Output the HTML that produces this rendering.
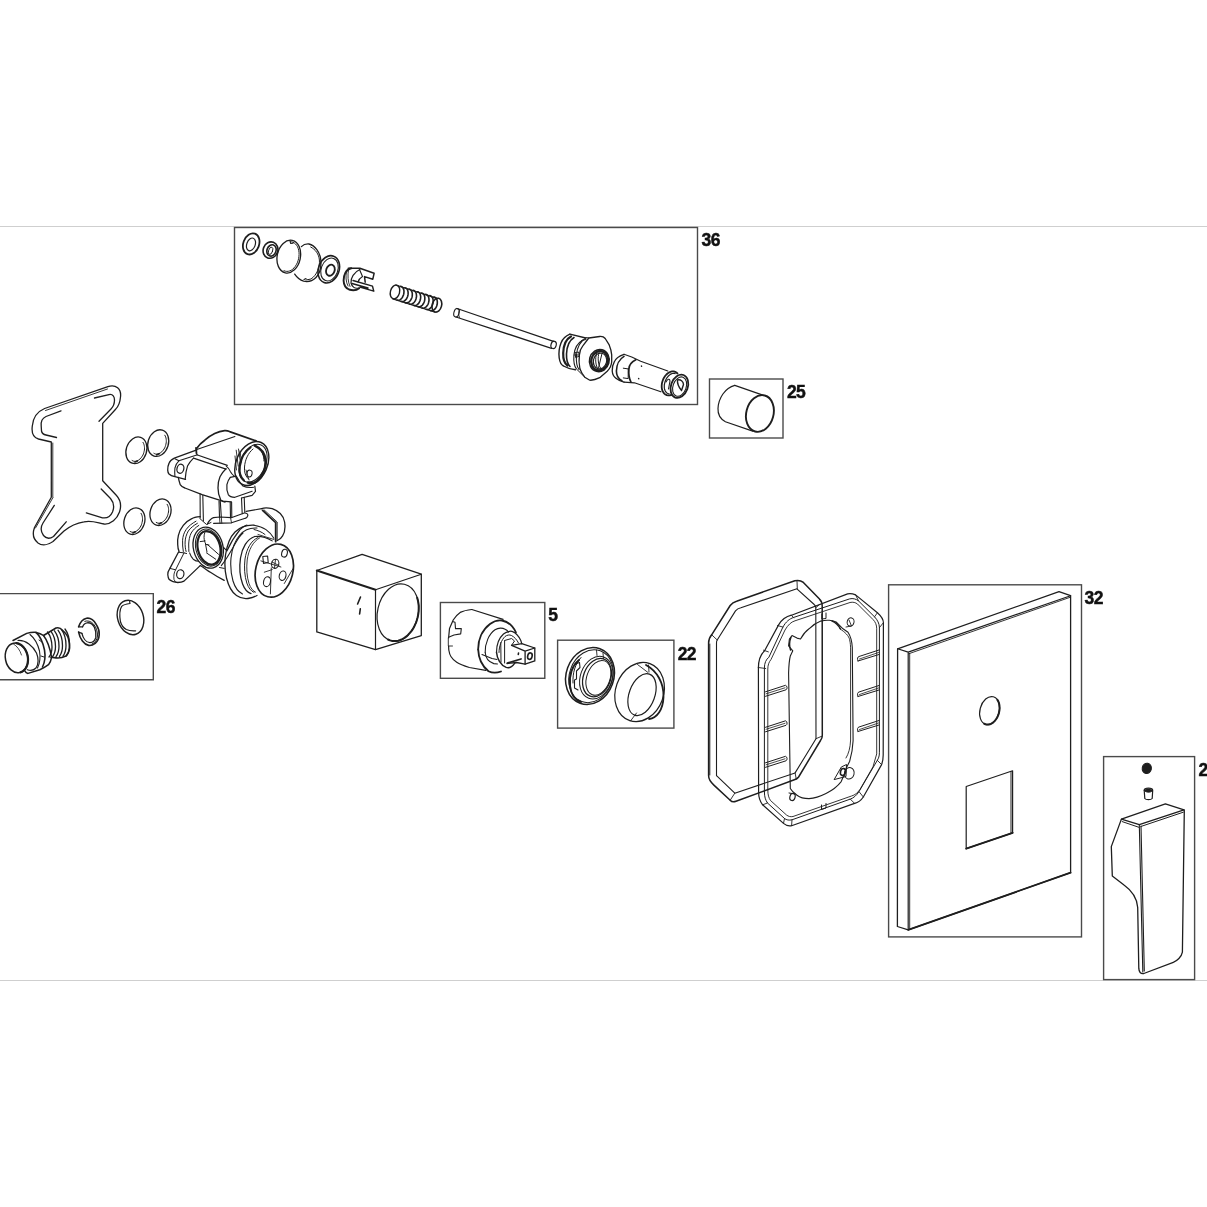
<!DOCTYPE html>
<html><head><meta charset="utf-8">
<style>
html,body{margin:0;padding:0;background:#fff;}
body{width:1207px;height:1207px;overflow:hidden;position:relative;}
svg{position:absolute;left:0;top:0;}
.lbl{font-family:"Liberation Sans",sans-serif;font-weight:bold;font-size:17.5px;fill:#111;stroke:#111;stroke-width:0.45px;letter-spacing:-0.6px;}
</style></head><body>
<svg width="1207" height="1207" viewBox="0 0 1207 1207">
<g id="rules" stroke="#cfcfcf" stroke-width="1.2" fill="none">
<line x1="0" y1="226.5" x2="1207" y2="226.5"/>
<line x1="0" y1="980.5" x2="1207" y2="980.5"/>
</g>
<g id="boxes" stroke="#4a4a4a" stroke-width="1.4" fill="#fff">
<rect x="234.5" y="227.5" width="463" height="177"/>
<rect x="709.5" y="379" width="73.5" height="59"/>
<path d="M0 593.6 H153.3 V679.7 H0"/>
<rect x="440.4" y="602.5" width="104.4" height="75.8"/>
<rect x="557.6" y="640.2" width="116.3" height="87.9"/>
<rect x="888.6" y="584.8" width="192.9" height="352.1"/>
<rect x="1103.6" y="756.6" width="91" height="223"/>
</g>
<defs><filter id="gs" x="-0.05" y="-0.2" width="1.1" height="1.4"><feColorMatrix type="identity"/></filter></defs>
<g id="labels" class="lbl" filter="url(#gs)">
<text x="701.6" y="246.2">36</text>
<text x="786.9" y="397.9">25</text>
<text x="156.6" y="612.7">26</text>
<text x="548.3" y="621.3">5</text>
<text x="677.7" y="659.9">22</text>
<text x="1084.6" y="603.9">32</text>
<text x="1198.5" y="775.6">2</text>
</g>
<g id="parts" stroke="#1e1e1e" stroke-width="1.3" fill="none" stroke-linejoin="round" stroke-linecap="round">
<path d="M44.6 408.5 L107.9 386.6 C116 384 121.5 389 120.5 397 C120 403 118 407 115.4 409.5 L102.7 423.4 L102.7 480.8 L116.5 495.5 C121 500.5 121.5 506 119.5 512 C117 519 111 524.5 104.2 524 C98 523 92 520 84 521.8 C76 523 70 526 64 531 L53 541.5 C48 545 42 546 38 543 C33 539 32.5 533 34.5 527.5 L51.3 497.2 L51.3 442 L38.5 439 C33 437.5 31.5 432 32.3 426 C33 418 37.5 411.5 44.6 408.5 Z" />
<path d="M45.5 410.5 L107.5 389" stroke-width="0.9" />
<path d="M52.8 443 L52.8 497" stroke-width="0.9" />
<path d="M53 497.5 L35.5 528" stroke-width="0.9" />
<path d="M61 410.8 L46 416.5 C41.5 418.5 40.8 422 41.2 426 L41.5 431 C42 433.5 43.5 434.5 46 435 L56.5 437.5" />
<path d="M94.5 398 L109 394.6 C113 393.8 114.5 397 114.5 400 C114.5 404 113.5 406.5 111 409 L99 421.2" />
<path d="M101.2 489 L110.5 498.5 C113.5 502 114.5 507 112.5 512 C110.5 516.5 107 518.5 102.5 517.8 L86.3 512.9" />
<path d="M54.3 505.4 L43 523 C40.5 527 41 532 43.5 535.5 C46 538.5 50 538.8 53.5 536.5 L66.2 521.8" />
<ellipse cx="136.4" cy="450.3" rx="10.2" ry="13.6" transform="rotate(18 136.4 450.3)" />
<path d="M143.0 442.4 L143.5 443.3 L143.9 444.3 L144.2 445.3 L144.4 446.5 L144.5 447.7 L144.5 448.9 L144.4 450.1 L144.1 451.4 L143.8 452.7 L143.4 453.9 L142.9 455.1 L142.2 456.2 L141.6 457.2 L140.8 458.1 L140.0 459.0 L139.1 459.7 L138.3 460.3 L137.3 460.8 L136.4 461.1 L135.5 461.3 L134.6 461.3 L133.7 461.2 L132.9 460.9 L132.1 460.5" stroke-width="1.0" />
<line x1="134.9" y1="462.0" x2="137.4" y2="460.90000000000003" stroke-width="1.6"/>
<ellipse cx="158.2" cy="443.1" rx="10.2" ry="13.6" transform="rotate(18 158.2 443.1)" />
<path d="M164.8 435.2 L165.3 436.1 L165.7 437.1 L166.0 438.1 L166.2 439.3 L166.3 440.5 L166.3 441.7 L166.2 442.9 L165.9 444.2 L165.6 445.5 L165.2 446.7 L164.7 447.9 L164.0 449.0 L163.4 450.0 L162.6 450.9 L161.8 451.8 L160.9 452.5 L160.1 453.1 L159.1 453.6 L158.2 453.9 L157.3 454.1 L156.4 454.1 L155.5 454.0 L154.7 453.7 L153.9 453.3" stroke-width="1.0" />
<line x1="156.7" y1="454.8" x2="159.2" y2="453.70000000000005" stroke-width="1.6"/>
<ellipse cx="134.4" cy="521.2" rx="10.2" ry="13.6" transform="rotate(18 134.4 521.2)" />
<path d="M141.0 513.3 L141.5 514.2 L141.9 515.2 L142.2 516.2 L142.4 517.4 L142.5 518.6 L142.5 519.8 L142.4 521.0 L142.1 522.3 L141.8 523.6 L141.4 524.8 L140.9 526.0 L140.2 527.1 L139.6 528.1 L138.8 529.0 L138.0 529.9 L137.1 530.6 L136.3 531.2 L135.3 531.7 L134.4 532.0 L133.5 532.2 L132.6 532.2 L131.7 532.1 L130.9 531.8 L130.1 531.4" stroke-width="1.0" />
<line x1="132.9" y1="532.9000000000001" x2="135.4" y2="531.8000000000001" stroke-width="1.6"/>
<ellipse cx="160.5" cy="512.2" rx="10.2" ry="13.6" transform="rotate(18 160.5 512.2)" />
<path d="M167.1 504.3 L167.6 505.2 L168.0 506.2 L168.3 507.2 L168.5 508.4 L168.6 509.6 L168.6 510.8 L168.5 512.0 L168.2 513.3 L167.9 514.6 L167.5 515.8 L167.0 517.0 L166.3 518.1 L165.7 519.1 L164.9 520.0 L164.1 520.9 L163.2 521.6 L162.4 522.2 L161.4 522.7 L160.5 523.0 L159.6 523.2 L158.7 523.2 L157.8 523.1 L157.0 522.8 L156.2 522.4" stroke-width="1.0" />
<line x1="159.0" y1="523.9000000000001" x2="161.5" y2="522.8000000000001" stroke-width="1.6"/>
<path d="M196.8 448.2 C199 445 201.5 442.5 204.8 440.2 C208 437.5 211 435.3 214.7 433.6 C218 432 221 431 224.6 430.6 C226.5 430.4 228 430.8 229.6 431.6 L256.1 440.9" stroke-width="1.7" />
<path d="M196.8 449.5 L234.9 436.6" stroke-width="1.1" />
<path d="M196.8 449.9 L174.3 458.1 C171.5 459.5 169.8 461 169 463.4 C168 465.5 167.6 468 167.7 470.1 C167.8 472 168.2 473 169 474 C170.5 475.5 172.5 476.2 174.9 476.7 L185.5 479.3" stroke-width="1.3" />
<path d="M174.9 458.8 L178.9 460.8 L197.5 454.8" stroke-width="1.1" />
<path d="M178.9 460.8 C176.5 463 175.3 465.5 174.9 468.1 C174.6 471 174.7 473.5 174.9 476" stroke-width="1.1" />
<path d="M193.5 458.1 C190.5 461 188.8 463.5 187.5 466.1 C186.2 470 185.5 474 185.2 479.3" stroke-width="1.2" />
<ellipse cx="180.4" cy="468.8" rx="3.4" ry="4.6" transform="rotate(15 180.4 468.8)" stroke-width="1.3" />
<path d="M196 448 L196.5 453.5" stroke-width="1.8" />
<path d="M196.8 454.8 L227.3 465.4 M193.5 458.1 L226 469.1" stroke-width="1.2" />
<path d="M178.3 477.4 C178.8 480 179.5 482.5 180.2 484.6 C181.5 486.5 183 487.5 184.9 488 L202.1 494.6 L222.7 501.2 L230.9 501.9" stroke-width="1.3" />
<path d="M226 468.7 C223.5 471 221.5 474 220 476.7 C218.5 480 218 484 218 488 C218 492 219 496.5 220.7 499.9 C222 501 223.5 501.7 225 502" stroke-width="1.3" />
<path d="M230.3 477.4 C228.5 479.5 227.5 482 226.9 484.7 C226.5 488 227 491.5 228.3 494.6 C229.5 496.5 232 497.2 234.9 497.3 L252.1 491.3" stroke-width="1.2" />
<path d="M230.3 477.4 L236.2 476.1 C239 480 240.5 484 242.9 486 C246 487.5 250 487.7 253.5 487.3" stroke-width="1.1" />
<path d="M226.3 466.1 C228 467.5 229.5 469.5 230.3 471.4 C231.5 473.5 232.8 475 234.2 476.1" stroke-width="1.1" />
<path d="M254.8 486 L255.5 491.3 L252.1 495.3 L241.5 498" stroke-width="1.2" />
<ellipse cx="251.8" cy="463.5" rx="15.6" ry="23.0" transform="rotate(24 251.8 463.5)" stroke-width="1.4" />
<ellipse cx="253.0" cy="463.2" rx="12.6" ry="20.0" transform="rotate(24 253.0 463.2)" stroke-width="1.0" />
<path d="M254.8 445.6 C260 448 264.5 453 265.4 459.5 C266.5 467 263 476 257 481 C254.5 483 251 483.5 248 482.5" stroke-width="2.6" />
<path d="M258 447.5 C262 450.5 264 455.5 264 461" stroke-width="1.0" />
<path d="M250.5 447.3 C245 451 241 458 239.8 466 C239 472 240.5 477.5 244 480.5" stroke-width="2.2" />
<path d="M253 449 C248 453 245 460 244.5 467 C244 472 245.5 476.5 248.5 479" stroke-width="1.0" />
<path d="M236.2 450.2 L238.2 466.1 M238.5 449 L240.5 463 M235 456 L236.5 470 M240 451 L241.5 462" stroke-width="0.9" />
<ellipse cx="249.5" cy="473.5" rx="2.6" ry="3.4" transform="rotate(10 249.5 473.5)" stroke-width="1.0" />
<path d="M246 470 L249 480" stroke-width="0.9" />
<path d="M200.1 493.9 L200.2 518 M202.8 495.2 L203.4 521 M219 501 L219.5 517 M220.3 501.2 L221.3 517 M230.2 501.9 L230.5 517.5 M231.6 501.9 L231.8 517.5 M241.5 498 L242.2 513.6 M244.2 497.3 L244.8 512.4" stroke-width="1.1" />
<path d="M207.3 524 C209 520.5 211 518.5 213.5 517.6 L219.9 517 L231.2 517.7 L244.3 513 C246.5 512.8 248.2 514 247.8 515.7 C247.5 517 246.5 518 245.2 518.3 L231.5 522.8 L213.6 523.3" stroke-width="1.2" />
<path d="M219.5 517 L220 523.3 M221.3 517.2 L221.8 523.3 M230.5 517.5 L231.5 522.8" stroke-width="0.9" />
<path d="M246.1 511.3 L261.7 508.7" stroke-width="1.2" />
<path d="M261.7 508.7 C264 507.8 268 507.8 272.2 508.7 C279 511 283.5 516 284.6 522 C285.5 528 284.5 533 282.6 535.8 C281 538.5 279 540 277.4 540.5" stroke-width="1.3" />
<path d="M262.6 510.4 L275.7 522.6 L275.7 541.7" stroke-width="1.8" />
<path d="M264 509.8 L277.2 522 L277.2 540.5" stroke-width="0.9" />
<path d="M200.2 516.6 C196 517 193.5 517.5 191.8 518.7 C188 520.5 185.5 522.5 183.3 525.4 C180.5 529 179 532 178.4 535.3 C177.6 538.5 177.5 541.5 177.7 544.4 C177.8 547.5 178.3 549.8 179.1 551.5" stroke-width="1.3" />
<path d="M196 521.2 C192 523.5 188.5 526 186.1 529.6 C183.8 533 182.8 536.5 182.6 540.2 C182.4 544 182.7 548 183.3 551.5" stroke-width="1.0" />
<path d="M197.4 523.3 C193.5 525.5 190.5 528 188.3 531 C186.3 534.5 185.3 538 185.1 542 C185 545.5 185.3 549 186.1 551.5" stroke-width="1.0" />
<path d="M198.8 525.4 C195.5 527.5 193 530 191.2 533 C189.5 536.5 188.9 540 188.7 544 C188.7 547 188.8 549.5 188.9 551.5" stroke-width="1.0" />
<path d="M189.6 552.9 C190.5 555.5 191.8 557.8 193.2 559.2 C195 560.6 197 561.3 198.8 561.3" stroke-width="1.1" />
<path d="M199.8 518.5 L206.5 524.5 L211 522.5" stroke-width="1.0" />
<path d="M178.4 552.2 L169.9 568.4 C168.2 571 167.6 573 167.8 574.7 C168 577 168.4 578.5 169.2 579.6 C171.5 581.5 174.5 582.5 177.7 582.5 C180 582.5 182.5 582 184 581.1 L200.2 565.6" stroke-width="1.3" />
<path d="M184 552.9 L175.6 569.8 L169.9 568.4 M178.4 552.2 L184 552.9 L186.6 553.5" stroke-width="1.0" />
<path d="M175.6 569.8 C174 572 173.5 576 174 579.5 L175.5 582" stroke-width="0.9" />
<ellipse cx="180.3" cy="574.2" rx="3.6" ry="4.5" transform="rotate(12 180.3 574.2)" stroke-width="1.2" />
<ellipse cx="208.2" cy="547.6" rx="14.8" ry="20.8" transform="rotate(-14 208.2 547.6)" stroke-width="1.3" />
<ellipse cx="208.6" cy="547.6" rx="12.8" ry="18.8" transform="rotate(-14 208.6 547.6)" stroke-width="1.0" />
<ellipse cx="209.0" cy="547.8" rx="11.2" ry="17.0" transform="rotate(-14 209.0 547.8)" stroke-width="2.2" />
<path d="M206.3 531.6 C213 531 219.5 538 221.3 547 C222.8 556 220 562.5 214.5 564" stroke-width="1.0" />
<path d="M205.3 531.5 C203.5 535 203.5 540 206 544.5 L209 545 M205.5 544 L207 552 M207.3 544.4 L218.5 554.3 M206.5 552.9 L215.7 559.2 M200.2 541.6 L205.1 540.9" stroke-width="1.0" />
<path d="M200.2 565.6 C204 568 207.5 570.5 210.8 572.6 C215 575.5 219.5 578 224.2 580.4" stroke-width="1.2" />
<path d="M223.5 547.3 L227 550.8 C230 544 234 537 240 529.6 C243.5 526.5 246 525.2 247 525" stroke-width="1.2" />
<path d="M221.3 565.6 C226 560 231 551 235 544 C238 538.5 240.5 535 243 533" stroke-width="1.1" />
<path d="M219.5 567.5 L224.2 568.4" stroke-width="1.0" />
<path d="M254 525.2 C246 524.8 240 527 235 532 C230 537 227 545 225.5 555 C224.6 562 224.8 571 226.5 578 C228.5 586 232 592.5 236.5 595.5 C240 598 244 599 248 598.5 C251.5 598 254.5 597 257 595.5" stroke-width="1.3" />
<path d="M257 528 C250 527.5 244 530 239.8 535 C235 540.5 232 549 231 558 C230.3 566 231 574 233 581 C235 587.5 238.5 592 242.5 594" stroke-width="1.1" />
<path d="M254 525.2 C259 526 263 527.5 266 529.6 C269.5 532 272 535 273.9 538.3" stroke-width="1.1" />
<path d="M254 529.5 C258 530.5 262 532 265 534.5" stroke-width="1.0" />
<path d="M254.8 536.5 C247 539 242 548 240.5 558 C239.2 567 240 577 242.6 583.9 C244.5 589 247.5 592.5 251 593.5" stroke-width="1.3" />
<path d="M258 537.5 C251 540.5 246.5 549 245 559 C244 567 244.5 576 246.8 583 C248.5 588 251 591.2 254 592.4" stroke-width="1.0" />
<path d="M259.5 538 C253 541.5 248.5 550 247.2 560 C246.3 568 246.8 577 249 583.5 C250.5 588 253 591 255.5 592.2" stroke-width="0.9" />
<path d="M254.8 536.5 C260 536 265 536.5 272.2 540.9" stroke-width="1.1" />
<path d="M258 534.5 L274 539.5" stroke-width="0.9" />
<ellipse cx="274.3" cy="570.6" rx="18.6" ry="27.0" transform="rotate(14 274.3 570.6)" stroke-width="1.7" />
<ellipse cx="284.5" cy="553.2" rx="2.8" ry="4.0" transform="rotate(14 284.5 553.2)" stroke-width="1.1" />
<path d="M262.8 556.5 L267.6 556 L268.2 562.5 L263.5 563.5 Z" stroke-width="1.1" />
<ellipse cx="275.2" cy="563.8" rx="3.6" ry="4.6" transform="rotate(14 275.2 563.8)" stroke-width="1.1" />
<path d="M272 562 L279 565.5 M275.5 559.5 L274.5 568" stroke-width="0.9" />
<ellipse cx="282.6" cy="575.7" rx="3.3" ry="4.8" transform="rotate(14 282.6 575.7)" stroke-width="1.1" />
<ellipse cx="267.0" cy="581.7" rx="3.4" ry="5.0" transform="rotate(14 267.0 581.7)" stroke-width="1.1" />
<path d="M260.9 560.9 L280.9 567 M264.3 572.2 L272.2 569.6 M271.3 567.8 L270.4 593.9 M293 568.7 L284.3 583.5" stroke-width="0.9" />
<ellipse cx="130.5" cy="617.5" rx="12.8" ry="17.6" transform="rotate(-18 130.5 617.5)" stroke-width="1.4" />
<path d="M129.6 601.6 L130 603.5 C126 604 123 605 121.7 606.3 C119.5 610 119.5 616 120.4 621.5 C121.5 625.5 123.5 628 126.3 629.5 C129 630.8 132 631 135.6 630.8" stroke-width="1.2" />
<path d="M78.6 626.8 C80 622.5 83 619 86.6 618.2 C90.5 617.5 94.5 620.5 96.5 624.8 C98.5 628 99.5 631.5 99.2 634.8 C99 638.5 97.5 641.5 95.2 643.4 C93 645 90.5 645.8 88.6 645.4 C84 644.5 80 639 78.6 632.1" stroke-width="1.6" />
<path d="M82.6 626.8 C83.5 624.5 85 623 87.2 622.8 C90.5 622.5 93 624.5 94.5 627.5 C95.8 630.5 96.2 634 95.8 637.4 C95 640.5 92.5 642.5 89.9 642.7 C86 642.5 83 638 81.9 633.4" stroke-width="1.3" />
<path d="M84.8 621.3 C87.5 620.3 91 621.2 93.5 624 C96.5 627.5 97.7 632 97.5 636 C97 640 95 643 92 644" stroke-width="1.0" />
<path d="M78.6 626.8 L82.6 626.8 M78.6 632.1 L81.9 633.4" stroke-width="1.3" />
<ellipse cx="16.6" cy="657.9" rx="11.2" ry="15.0" transform="rotate(-12 16.6 657.9)" stroke-width="1.5" />
<path d="M16.4 643.1 L17.7 643.4 L19.1 643.9 L20.3 644.5 L21.6 645.4 L22.7 646.4 L23.8 647.6 L24.8 648.9 L25.6 650.3 L26.4 651.9 L27.0 653.5 L27.5 655.1 L27.8 656.9 L28.0 658.6 L28.0 660.3 L27.8 662.0 L27.6 663.6 L27.1 665.2 L26.6 666.6 L25.8 668.0 L25.0 669.2 L24.1 670.2 L23.0 671.1 L21.9 671.8 L20.7 672.3" stroke-width="2.2" />
<path d="M13 640.5 L26.7 633.4 C30 632.5 33 632.2 36 632.4 C39 633 41.5 634 43.5 635.5 C47 640 50 648 51.6 657.3 C51 660.5 50 663 48.5 664.7 C45.5 667 42.5 668.5 39.8 669.7 L28 673.4 C26.5 673.2 25.5 672.3 24.9 671" stroke-width="1.5" />
<path d="M18 640.5 C26 640 33 646 36.5 653 C38.5 658 38.5 664 36 668 C34 670 31 671 27.3 669.7" stroke-width="1.2" />
<path d="M30 634.5 C35 638.5 38 645 39.5 651 C40.5 657 40 663 37.5 668" stroke-width="1.1" />
<path d="M36 632.4 C40 636 43 643 44.5 650 C45.5 656 45 662 42.5 667" stroke-width="1.6" />
<path d="M39 640 L42 642 M41 656 L44 657" stroke-width="1.0" />
<path d="M43.5 635.5 L56 628 C58 627.5 60.5 627.8 62.2 630 C65 632.5 67.5 635 68.4 638.6 C69.5 642 69.8 645 69.6 648 C69.3 651 68 654 65.9 656 C63 657.5 59 658.2 56 657.9 L51 657.3" stroke-width="1.6" />
<path d="M47.5 632.0 C50.5 636.0 52.0 642.0 52.0 647.0 C52.0 651.0 51.0 654.5 49.0 657.0" stroke-width="1.3" />
<path d="M51 631.4 C54 635.4 55.5 641.5 55.5 646.6 C55.5 650.7 54.5 654.2 52.5 656.8" stroke-width="1.3" />
<path d="M54.5 630.8 C57.5 634.8 59.0 641.0 59.0 646.2 C59.0 650.4 58.0 653.9 56.0 656.6" stroke-width="1.3" />
<path d="M58 630.2 C61 634.2 62.5 640.5 62.5 645.8 C62.5 650.1 61.5 653.6 59.5 656.4" stroke-width="1.3" />
<path d="M61.5 629.6 C64.5 633.6 66.0 640.0 66.0 645.4 C66.0 649.8 65.0 653.3 63.0 656.2" stroke-width="1.3" />
<path d="M65 629.0 C68 633.0 69.5 639.5 69.5 645.0 C69.5 649.5 68.5 653.0 66.5 656.0" stroke-width="1.3" />
<path d="M13.5 644 C17 646 20 650 21.5 655" stroke-width="0.8" />
<ellipse cx="251.2" cy="243.9" rx="7.9" ry="10.9" transform="rotate(20 251.2 243.9)" stroke-width="1.8" />
<ellipse cx="251.0" cy="244.4" rx="4.2" ry="6.6" transform="rotate(20 251.0 244.4)" stroke-width="1.2" />
<ellipse cx="270.5" cy="250.1" rx="7.3" ry="8.3" transform="rotate(20 270.5 250.1)" stroke-width="1.6" />
<ellipse cx="271.5" cy="250.4" rx="4.5" ry="5.8" transform="rotate(20 271.5 250.4)" stroke-width="1.6" />
<ellipse cx="270.6" cy="250.8" rx="2.0" ry="3.8" transform="rotate(20 270.6 250.8)" stroke-width="0.9" />
<ellipse cx="288.8" cy="256.6" rx="11.6" ry="16.6" transform="rotate(12 288.8 256.6)" stroke-width="1.3" />
<path d="M290.2 241.8 L291.6 241.9 L293.0 242.3 L294.3 243.0 L295.5 244.0 L296.6 245.2 L297.5 246.7 L298.2 248.4 L298.7 250.3 L299.0 252.3 L299.1 254.4 L298.9 256.5 L298.6 258.7 L298.0 260.8 L297.3 262.8 L296.3 264.7 L295.3 266.4 L294.0 267.9 L292.7 269.2 L291.3 270.2 L289.8 270.9 L288.3 271.3 L286.8 271.4 L285.4 271.2 L284.0 270.7" stroke-width="1.0" />
<path d="M290 240.5 L290.6 243.5 L293 243.3" stroke-width="1.1" />
<path d="M301.4 246.6 C303.5 244.5 306 243.8 308.9 244 C315 245.5 320 252 320.8 260 C321.5 268 319.5 274 316 277.5 C312.5 281 307.5 282 303.6 281.2 C300 280 297 277.5 294.7 274.1" stroke-width="1.3" />
<path d="M310.7 247 C315.5 249.5 318.8 254 319.4 260 C320 267 317 275 311 279 L306 280" stroke-width="1.0" />
<path d="M304 279.5 L306 278.5" stroke-width="1.1" />
<ellipse cx="328.8" cy="269.3" rx="10.3" ry="14.0" transform="rotate(20 328.8 269.3)" stroke-width="1.6" />
<ellipse cx="329.5" cy="269.5" rx="8.3" ry="11.8" transform="rotate(20 329.5 269.5)" stroke-width="1.1" />
<ellipse cx="330.4" cy="270.2" rx="4.2" ry="5.7" transform="rotate(20 330.4 270.2)" stroke-width="1.8" />
<path d="M351.3 268.3 C346 269 343.5 275 343.6 280.6 C343.8 285 345.5 288 349 289.5 C353 290.8 357 290 359.2 288.2" stroke-width="1.9" />
<path d="M348.3 268.3 L359.9 268.3 L374.1 273.3 L372.8 279.2 L364.5 276.6 L365.2 282.2" stroke-width="1.5" />
<path d="M359.9 269.5 C354 272 350.5 278 351 283 C352 287 355 289 358.5 288" stroke-width="1.2" />
<path d="M346.5 272 C345.5 276 345.8 282 348 286 M348.5 270 C347.5 275 347.8 282 350 286.5" stroke-width="0.9" />
<path d="M359.5 269.5 L362.5 276.5 C360 278 358.5 280 358 282" stroke-width="1.1" />
<path d="M353 280.5 L372.5 286.2 L373.8 291.2 L359.9 287.2 M352 283.5 L368 288" stroke-width="1.4" />
<ellipse cx="395.0" cy="292.0" rx="4.6" ry="7.0" transform="rotate(15 395.0 292.0)" stroke-width="1.4" />
<path d="M395.8 285 L437.5 298.6 M392.8 298.8 L434.5 312" stroke-width="1.3" />
<path d="M400.6 286.4 L401.2 286.5 L401.8 286.8 L402.3 287.2 L402.8 287.7 L403.2 288.3 L403.5 289.1 L403.8 289.9 L403.9 290.7 L404.0 291.6 L403.9 292.6 L403.8 293.6 L403.6 294.5 L403.3 295.4 L402.9 296.3 L402.5 297.2 L402.0 297.9 L401.4 298.6 L400.8 299.2 L400.2 299.6 L399.5 300.0 L398.9 300.2 L398.2 300.3 L397.6 300.2 L397.0 300.0" stroke-width="1.6" />
<path d="M404.8 287.7 L405.4 287.9 L406.0 288.1 L406.5 288.5 L407.0 289.0 L407.4 289.7 L407.7 290.4 L407.9 291.2 L408.1 292.1 L408.1 293.0 L408.1 293.9 L408.0 294.9 L407.8 295.8 L407.5 296.8 L407.1 297.7 L406.7 298.5 L406.2 299.3 L405.6 299.9 L405.0 300.5 L404.3 301.0 L403.7 301.3 L403.0 301.5 L402.4 301.6 L401.7 301.5 L401.1 301.4" stroke-width="1.6" />
<path d="M409.0 289.0 L409.6 289.2 L410.1 289.4 L410.7 289.8 L411.1 290.4 L411.5 291.0 L411.9 291.7 L412.1 292.5 L412.3 293.4 L412.3 294.3 L412.3 295.2 L412.2 296.2 L412.0 297.2 L411.7 298.1 L411.3 299.0 L410.8 299.8 L410.3 300.6 L409.8 301.2 L409.2 301.8 L408.5 302.3 L407.9 302.6 L407.2 302.8 L406.5 302.9 L405.9 302.9 L405.3 302.7" stroke-width="1.6" />
<path d="M413.1 290.3 L413.7 290.5 L414.3 290.8 L414.8 291.2 L415.3 291.7 L415.7 292.3 L416.0 293.0 L416.3 293.8 L416.4 294.7 L416.5 295.6 L416.5 296.6 L416.3 297.5 L416.1 298.5 L415.8 299.4 L415.5 300.3 L415.0 301.1 L414.5 301.9 L413.9 302.6 L413.3 303.1 L412.7 303.6 L412.0 303.9 L411.4 304.2 L410.7 304.2 L410.1 304.2 L409.5 304.0" stroke-width="1.6" />
<path d="M417.3 291.7 L417.9 291.8 L418.5 292.1 L419.0 292.5 L419.5 293.0 L419.9 293.6 L420.2 294.3 L420.4 295.1 L420.6 296.0 L420.7 296.9 L420.6 297.9 L420.5 298.8 L420.3 299.8 L420.0 300.7 L419.6 301.6 L419.2 302.5 L418.7 303.2 L418.1 303.9 L417.5 304.5 L416.9 304.9 L416.2 305.3 L415.5 305.5 L414.9 305.6 L414.2 305.5 L413.6 305.3" stroke-width="1.6" />
<path d="M421.5 293.0 L422.1 293.1 L422.7 293.4 L423.2 293.8 L423.7 294.3 L424.1 294.9 L424.4 295.7 L424.6 296.5 L424.8 297.3 L424.8 298.2 L424.8 299.2 L424.7 300.2 L424.5 301.1 L424.2 302.0 L423.8 302.9 L423.3 303.8 L422.8 304.5 L422.3 305.2 L421.7 305.8 L421.0 306.2 L420.4 306.6 L419.7 306.8 L419.1 306.9 L418.4 306.8 L417.8 306.6" stroke-width="1.6" />
<path d="M425.6 294.3 L426.3 294.5 L426.8 294.7 L427.4 295.1 L427.8 295.6 L428.2 296.3 L428.5 297.0 L428.8 297.8 L428.9 298.7 L429.0 299.6 L429.0 300.5 L428.8 301.5 L428.6 302.4 L428.3 303.4 L428.0 304.3 L427.5 305.1 L427.0 305.9 L426.4 306.5 L425.8 307.1 L425.2 307.6 L424.5 307.9 L423.9 308.1 L423.2 308.2 L422.6 308.1 L422.0 308.0" stroke-width="1.6" />
<path d="M429.8 295.6 L430.4 295.8 L431.0 296.0 L431.5 296.4 L432.0 297.0 L432.4 297.6 L432.7 298.3 L433.0 299.1 L433.1 300.0 L433.2 300.9 L433.1 301.8 L433.0 302.8 L432.8 303.8 L432.5 304.7 L432.1 305.6 L431.7 306.4 L431.2 307.2 L430.6 307.8 L430.0 308.4 L429.4 308.9 L428.7 309.2 L428.0 309.4 L427.4 309.5 L426.8 309.5 L426.1 309.3" stroke-width="1.6" />
<path d="M434.0 296.9 L434.6 297.1 L435.2 297.4 L435.7 297.8 L436.2 298.3 L436.6 298.9 L436.9 299.6 L437.1 300.4 L437.3 301.3 L437.3 302.2 L437.3 303.2 L437.2 304.1 L437.0 305.1 L436.7 306.0 L436.3 306.9 L435.9 307.7 L435.3 308.5 L434.8 309.2 L434.2 309.7 L433.5 310.2 L432.9 310.5 L432.2 310.8 L431.6 310.8 L430.9 310.8 L430.3 310.6" stroke-width="1.6" />
<ellipse cx="436.9" cy="305.2" rx="4.7" ry="7.1" transform="rotate(15 436.9 305.2)" stroke-width="1.6" />
<ellipse cx="456.5" cy="312.8" rx="2.6" ry="4.3" transform="rotate(15 456.5 312.8)" stroke-width="1.1" />
<path d="M457 308.5 L553.5 341.4 M456 317 L551.5 348.3" />
<ellipse cx="553.6" cy="344.9" rx="2.6" ry="3.7" transform="rotate(15 553.6 344.9)" stroke-width="1.2" />
<path d="M459.8 309.2 C458.3 311.5 458.3 315.5 459.5 317.5" stroke-width="0.9" />
<path d="M569.9 334.2 C565.5 336 562.5 339 561 343 C559 348 558.8 354.9 559.2 358 C559.8 362 561 364.8 563.5 366 C566 367.5 570 369 575.4 369.8" stroke-width="1.4" />
<path d="M569.9 334.2 L585.8 338" stroke-width="1.3" />
<path d="M571 336.5 C566 339 563.5 346 563.2 353 C563 359 564.5 363.5 567.5 365.5" stroke-width="2.2" />
<path d="M574 337.5 C569 340.5 566.8 347 566.5 354 C566.3 360 567.5 364 570 366.5" stroke-width="1.6" />
<path d="M582.8 340 C577.5 343 574.5 349 573.9 355 C573.5 361 573.9 366 576.4 368.8" stroke-width="1.1" />
<path d="M585.8 338 C580 341.5 577 348 576.5 355 C576 362 576.6 366.5 579 369.5" stroke-width="1.1" />
<path d="M575.5 352.5 L578.5 352 L579.5 356 L576 357.5 Z M574.5 355 L578.5 355" stroke-width="1.0" />
<path d="M577 369.5 L584.8 377.2" stroke-width="1.0" />
<path d="M588.8 338 L599.7 336.5 C602 336.3 604 337 605.2 338.5 L609.2 344.9 C610.5 348 611.5 352 611.7 354.9 L611.7 361.8 C611.5 365 610 368.5 607.2 371.3 L599.7 377.7 C596 379.5 593 380.5 589.8 380.2 L584.8 377.2 C582.5 374.5 580.8 371.5 579.9 368.8 C579 364 578.8 359 579.4 354.9 C579.8 351 581 348 582.8 345.9 L588.8 338 Z" stroke-width="1.3" />
<path d="M586.5 337.6 L588.8 338 M581.6 340.6 L586 339.5" stroke-width="1.0" />
<ellipse cx="599.3" cy="360.6" rx="9.9" ry="11.2" transform="rotate(15 599.3 360.6)" stroke-width="1.4" />
<ellipse cx="599.6" cy="360.8" rx="8.4" ry="9.8" transform="rotate(15 599.6 360.8)" stroke-width="2.4" />
<ellipse cx="600.0" cy="361.0" rx="6.6" ry="8.0" transform="rotate(15 600.0 361.0)" stroke-width="1.2" />
<path d="M596.5 353.5 C595 359 595.5 365.5 598 369 M599 352.5 C597.5 358 598 364.5 600.5 368 M602 353.5 L598.5 368" stroke-width="1.0" />
<path d="M624 354.3 C619 356 615.5 358.5 614.3 361.9 C612.5 365 612 368 612.2 371 C612.5 375 614 377 616.4 378.6 C618.5 380.5 621 381.5 624 382.1" stroke-width="1.3" />
<path d="M624 356.4 C619.5 359 616.5 365 616.4 371 C616.4 375.5 618.5 379 621.9 380.7" stroke-width="1.6" />
<path d="M624 354.3 L631.7 357 L640.7 361.2 L667.8 371" stroke-width="1.2" />
<path d="M635.8 359.8 C631.5 362 629 365 628.9 368.9 C628.5 374 629 378.5 631 382.1" stroke-width="1.7" />
<path d="M624 382.1 L634.4 382.8 L660.9 391.8" stroke-width="1.2" />
<path d="M623.3 368.2 L628.2 368.9 L628.2 378.6 L623.3 377.9" stroke-width="1.0" />
<path d="M641.4 366.1 L641.6 366.3 M638.6 378.6 L638.8 378.8" stroke-width="1.4" />
<path d="M671.2 395.0 L669.6 395.3 L668.2 395.4 L666.7 395.1 L665.4 394.5 L664.3 393.6 L663.3 392.4 L662.5 390.9 L662.0 389.3 L661.7 387.4 L661.7 385.5 L661.9 383.5 L662.4 381.5 L663.1 379.5 L664.0 377.7 L665.1 376.0 L666.4 374.5 L667.8 373.3 L669.2 372.4 L670.8 371.7 L672.3 371.4 L673.8 371.4 L675.2 371.8 L676.4 372.5 L677.5 373.5" stroke-width="1.8" />
<path d="M669.1 393.8 L668.2 393.6 L667.3 393.3 L666.6 392.7 L665.9 392.0 L665.3 391.1 L664.8 390.1 L664.5 388.9 L664.3 387.7 L664.3 386.4 L664.3 385.0 L664.6 383.6 L664.9 382.2 L665.4 380.8 L666.0 379.4 L666.7 378.2 L667.5 377.1 L668.4 376.0 L669.3 375.2 L670.3 374.4 L671.3 373.9 L672.3 373.5 L673.3 373.4 L674.3 373.4 L675.2 373.6" stroke-width="1.2" />
<path d="M666 382 C667.5 379 669.5 378 670 381 L668.5 389" stroke-width="1.1" />
<ellipse cx="679.4" cy="386.3" rx="8.4" ry="12.0" transform="rotate(20 679.4 386.3)" stroke-width="1.8" />
<ellipse cx="679.6" cy="386.6" rx="6.6" ry="10.0" transform="rotate(20 679.6 386.6)" stroke-width="1.1" />
<path d="M677.5 380 C680.5 379 683.5 381.5 683.5 384.5 L681.5 390.5 C679.5 388 677 385 677.5 380 Z" stroke-width="1.4" />
<ellipse cx="759.9" cy="413.5" rx="13.6" ry="18.6" transform="rotate(15 759.9 413.5)" stroke-width="1.9" />
<path d="M734.8 385.4 C725 388 718.5 398 718 408.5 C717.7 414.5 720.5 419 725.4 421.7 L752.7 431.1" stroke-width="1.2" />
<path d="M734.8 385.4 L763.6 395.4" stroke-width="1.2" />
<path d="M316.8 570.5 L362.1 554.3 L421.3 574.2 L421.3 635.6 L375.5 649.6 L316.8 631.9 Z" stroke-width="1.3" />
<path d="M316.8 570.5 L375.5 589.8" stroke-width="2.0" />
<path d="M375.5 589.8 L421.3 574.2 M375.5 589.8 L375.5 649.6" stroke-width="1.2" />
<ellipse cx="397.9" cy="612.5" rx="20.3" ry="29.0" transform="rotate(13 397.9 612.5)" stroke-width="1.2" />
<path d="M417.2 597.8 L417.9 600.4 L418.4 603.1 L418.7 605.9 L418.7 608.8 L418.6 611.7 L418.2 614.6 L417.6 617.5 L416.8 620.3 L415.8 623.1 L414.6 625.7 L413.3 628.2 L411.8 630.6 L410.1 632.7 L408.3 634.7 L406.5 636.4 L404.5 637.9 L402.4 639.1 L400.3 640.0 L398.2 640.7 L396.1 641.0 L394.0 641.1 L392.0 640.9 L390.0 640.4 L388.0 639.5" stroke-width="2.0" />
<path d="M360.5 597 L357.6 604 M360.3 608.8 L359.6 614" stroke-width="1.6" />
<path d="M471.8 609.5 C467 610 463 611 460.2 612.4 C457 614.5 455 617 453.2 620 L449.5 628.6 L448.6 637.9 M448.6 646 L448.8 650 C449.3 653 449.8 655 450.9 656.5 C452.5 659 454.5 661 456.7 662.3 C460 664.5 464.5 666 469.4 667.5 L485.7 670.4" stroke-width="1.2" />
<path d="M471.8 609.5 L503.1 619.4" stroke-width="1.2" />
<path d="M452.5 621.5 L455 622.3 L455.5 628.6 L461.3 628.6 L460.7 633.9 L454 635 L449.2 637" stroke-width="1.1" />
<path d="M448.6 646 L452.5 646 M448.3 638 L448.3 645.5" stroke-width="0.9" />
<path d="M478.2 649.6 C478 640 482 630 490 624 C494 621 498 620 501.9 620.5 C508 621.5 513 626 515.9 632.4" stroke-width="1.8" />
<path d="M478.2 649.6 C478.5 658 482 666 488.5 671.2 C492 673 497 673 501 671.5" stroke-width="1.8" />
<path d="M485.2 652.3 C485 643 489 634 495 629.8 C497 628.5 499 628 500.8 628.1 C504 628.3 506.5 629.5 508.4 631.8" stroke-width="1.1" />
<path d="M485.2 652.3 C485.5 658 488.5 662 493.8 663.6 L497.5 664" stroke-width="1.1" />
<path d="M482 654.5 L492 658.5 L497 659.5" stroke-width="1.1" />
<path d="M508.4 631.8 C510 631 511.5 631 512.7 631.6 C516 633 519 636.5 520.8 640.5 L521.8 643.7" stroke-width="1.2" />
<path d="M496.5 652.3 C496.5 645 499 638 503.5 634 C505.5 632.5 507 631.8 508.4 631.8" stroke-width="1.2" />
<path d="M496.5 652.3 C497 658.5 500.5 665 506.2 667.4 C509 668.5 512 667 514.8 663.1" stroke-width="1.5" />
<path d="M499 652.5 C499 646 501.5 640 505 636.5 C507 635 509.5 634.5 511.5 635.5 C514.5 637 517 640 518.5 643" stroke-width="1.0" />
<path d="M500.8 642.6 L501 662 M504.6 641 L504.6 663" stroke-width="1.0" />
<path d="M504.6 640.5 L511.6 638.5 L514.5 641 L511.6 645.3" stroke-width="1.0" />
<path d="M511.6 645.3 L521.8 643.7 L534.8 648 L534.8 660.9 L525.1 664.2 L516.5 662.5 L507 663.5" stroke-width="1.3" />
<path d="M511.6 645.3 L525.1 651.2 L534.8 648 M525.1 651.2 L525.1 664.2" stroke-width="1.3" />
<path d="M518.5 653 L518.3 654.5" stroke-width="1.6" />
<path d="M507.5 663 L521 659" stroke-width="1.8" />
<ellipse cx="529.9" cy="656.1" rx="2.2" ry="3.3" transform="rotate(15 529.9 656.1)" stroke-width="1.6" />
<ellipse cx="590.0" cy="676.0" rx="23.8" ry="29.0" transform="rotate(20 590.0 676.0)" stroke-width="1.5" />
<ellipse cx="591.0" cy="676.2" rx="21.6" ry="27.0" transform="rotate(20 591.0 676.2)" stroke-width="1.0" />
<path d="M579 660 C572 666 569 676 570 686 C571 694 575 700 581 702" stroke-width="2.0" />
<path d="M581 657.5 C575 664 572.5 673 573 683" stroke-width="1.0" />
<ellipse cx="597.0" cy="677.6" rx="13.6" ry="19.8" transform="rotate(20 597.0 677.6)" stroke-width="1.3" />
<ellipse cx="598.4" cy="677.8" rx="11.6" ry="18.0" transform="rotate(20 598.4 677.8)" stroke-width="1.0" />
<ellipse cx="596.2" cy="677.6" rx="15.8" ry="22.0" transform="rotate(20 596.2 677.6)" stroke-width="1.0" />
<path d="M575 664 L579.5 662.5 L580 667.5 L576.5 671 L576.5 679 L574.5 680 L574.5 688 L578 690" stroke-width="1.1" />
<path d="M596.5 650 L597 655.5 M603 653 L603.5 659" stroke-width="0.9" />
<ellipse cx="639.6" cy="692.0" rx="24.0" ry="30.2" transform="rotate(20 639.6 692.0)" stroke-width="1.2" />
<ellipse cx="642.0" cy="694.6" rx="12.8" ry="21.8" transform="rotate(20 642.0 694.6)" stroke-width="1.2" />
<path d="M646 665 C657 671 664 683 663.5 697 C663 710 657 718 649 719" stroke-width="1.8" />
<path d="M637.5 664.5 L648 672.5 M648.5 665 L649 672 M630.5 721 L636.5 713" stroke-width="0.9" />
<path d="M708.6 775.8 L708.6 643.2 C708.6 640 709.8 637 711.8 634.6 L730.2 605.5 C732 603 734 601.8 736.6 601.2 L794.8 580.8 C798 580 801 580.5 803.4 582.4 L819.5 599.1 C821.5 601 822.2 603 822.2 606 L822.3 735.6 C822.3 737.5 821.8 739 820.5 740.5 L798.6 777 C797.5 778.5 796.5 779 795 779.5 L736 801.3 C733.5 802.2 731.5 801.8 730.2 800.2 L713.9 785.1 C710.5 782 708.6 779.5 708.6 775.8 Z" stroke-width="1.5" />
<path d="M709.8 775 L709.8 644" stroke-width="1.0" />
<path d="M716.5 775.8 L716.5 643 C716.5 641.5 716.8 640.5 717.2 640 L735.5 610.9 C737 609 738.5 608.2 740.9 607.7 L796.9 588.8 L814.2 604.5 C815.4 605.5 815.8 606.5 815.8 607.7 L816 738.7 L795.1 772.9 L734.8 793.2 L716.8 775.8" stroke-width="1.1" />
<path d="M797 580.8 L797.3 588.8 M711.5 634.6 L717.2 640 M819.5 604.5 L815.8 607.7 M822.3 736 L816 738.7 M796.3 779.3 L795.1 772.9 M730.2 800.2 L734.8 793.2" stroke-width="0.9" />
<path d="M758.4 668 C758.4 660 760 655 764.6 650.8 L778.6 624.9 C782 619 786 616.5 791.5 615.2 L847.6 593.9 C850.5 593.2 853 593.8 855.6 594.9 L877.4 612.8 C881 616 883.4 619 883.4 622.8 L883.2 755 C883.2 759 882.5 762 881.6 764.6 L863.3 797 C861 800.5 858 802.5 854.6 803.4 L791.6 825.7 C788.5 826.5 786 825.5 783.5 823.4 L762.6 804.8 C760 801.5 758.6 797 758.6 792 Z" stroke-width="1.2" />
<path d="M764.4 792 L764.4 668 C764.4 663 766 659.5 768.9 657.2 L782.9 627.1 C786 621.5 789.5 618.8 793.7 617.4 L849.6 598.9 C853 598 856 599 858.5 600.9 L874.5 616.8 C877.5 620 879.4 623.5 879.4 627.7 L879.4 752.8 C879.4 756 878.5 758.5 877.3 760.3 L859 791.6 C856.5 795.5 853.5 798 850.3 799.1 L792 819.8 C789 820.5 786.5 820 784.5 818.5 L767.5 803 C765.5 800 764.4 797 764.4 792" stroke-width="1.0" />
<path d="M767.8 790 L767.8 669 C767.8 665 769 662 771 659.5 L785 630 C788 625 791 622 795 620.8 L850 602.5 C853 601.8 855.5 602.5 857.5 604 L873 619.5 C875.5 622 876.7 625 876.7 628.7 L876.7 753.9 L873 766.8 L860 789.4 C857.5 793 855 795 851.5 796 L793 816.5 C790.5 817 788.5 816.5 786.5 815 L770.5 800.5 C768.8 798 767.8 795 767.8 790" stroke-width="0.9" />
<path d="M777.5 625.5 L782.9 627.1 M763.5 650.2 L768.4 651.9 M758.2 667.5 L765.7 668.5 M791.5 615.2 L793.7 617.9 M855.6 594.9 L858.5 600.9 M877.4 612.8 L874.5 616.8 M883.3 622.8 L879.4 627.7 M881.6 764.6 L877.3 760.3 M863.3 797 L859 791.6 M854.6 803.4 L850.3 799.1 M791.6 825.7 L792 819.8 M783.5 823.4 L784.5 818.5 M762.6 804.8 L767.5 803" stroke-width="0.9" />
<path d="M800.5 639 C803 634.5 806 631 809 628.8 C813 625 817 622.5 820.8 621.1 C824 620.3 827 620 829.3 620.3 C832 620.8 834 621.2 836.1 622 L843 628.8 L848 632.2 C850.5 636 852 641.5 852.3 647.5 L853.1 740.8 C852.8 748 851.5 755 849.7 761.2 L846.3 768 C844.5 774 843 778 841.2 781.6 C837 787 832 790.5 826 793.5 C820 796.5 814 798.3 809 798.6 C804 798.6 800 797.5 797 795.2 C794 793 791.5 790.5 790.3 788.4 L788.6 673 C788.8 666 789.3 660 790.3 656 L792.8 650.8 L788.6 645.8 L789.4 639 L792 635.6 L797 638.1 L800.5 639" stroke-width="1.1" />
<path d="M839.7 628.7 C845 632 849 636 849.6 639.7 C850.4 643 850.6 646 850.6 650 L850.6 740 C850.3 748 848.5 754 846 758" stroke-width="0.9" />
<path d="M790.9 637.5 C789.5 641 789.3 646 790.5 650" stroke-width="1.4" />
<path d="M832 621 C835 622 838.5 625.5 840.5 629" stroke-width="1.4" />
<ellipse cx="850.6" cy="622" rx="3.4" ry="4.2" transform="rotate(15 850.6 622)" stroke-width="1.0" />
<path d="M846 627 L851.5 626 L849 620" stroke-width="0.9" />
<ellipse cx="849.3" cy="773.3" rx="4.8" ry="5.8" transform="rotate(15 849.3 773.3)" stroke-width="1.0" />
<path d="M841.7 766.8 L846.5 764.5 L846 776.5 L834.5 779.5 Z" stroke-width="1.0" />
<ellipse cx="843" cy="772" rx="2.5" ry="3.5" transform="rotate(15 843 772)" stroke-width="1.6" />
<ellipse cx="792.5" cy="797" rx="2.6" ry="3.6" transform="rotate(15 792.5 797)" stroke-width="1.2" />
<path d="M789 793 L795 794" stroke-width="1.0" />
<path d="M821.5 805 L821.5 809.5 L826 808 L826 803.5" stroke-width="1.0" />
<path d="M821.8 614 L821.8 619 L826 618.5 L826 613" stroke-width="1.0" />
<path d="M765.5 691.8 L785.5 685.3 C787.5 685.8 787.5 689.3 786 689.8 L765.5 696.3" stroke-width="1.0" />
<path d="M766 693.8 L785 687.8" stroke-width="0.8" />
<path d="M765.5 727.3 L785.5 720.8 C787.5 721.3 787.5 724.8 786 725.3 L765.5 731.8" stroke-width="1.0" />
<path d="M766 729.3 L785 723.3" stroke-width="0.8" />
<path d="M765.5 762.8 L785.5 756.3 C787.5 756.8 787.5 760.3 786 760.8 L765.5 767.3" stroke-width="1.0" />
<path d="M766 764.8 L785 758.8" stroke-width="0.8" />
<path d="M858 661 C857 658.5 857.5 657 859 656.5 L879 650 M858 661 L879 654.5" stroke-width="1.0" />
<path d="M859.5 659 L878.5 652.5" stroke-width="0.8" />
<path d="M858 696.5 C857 694.0 857.5 692.5 859 692.0 L879 685.5 M858 696.5 L879 690.0" stroke-width="1.0" />
<path d="M859.5 694.5 L878.5 688.0" stroke-width="0.8" />
<path d="M858 731.5 C857 729.0 857.5 727.5 859 727.0 L879 720.5 M858 731.5 L879 725.0" stroke-width="1.0" />
<path d="M859.5 729.5 L878.5 723.0" stroke-width="0.8" />
<path d="M897.6 648.8 L1059 591.6 L1070.6 595.7 L1070.6 872.7 L908.2 929.8 L897.4 926.5 Z" stroke-width="1.3" />
<path d="M897.6 648.8 L908.2 652.1 L1070.6 595.7 M908.2 652.1 L908.2 929.8" stroke-width="1.2" />
<path d="M908.6 653.8 L1069.8 597.4 M909.7 653.5 L909.7 928.5" stroke-width="0.9" />
<path d="M908.2 929.8 L1070.6 872.7" stroke-width="1.8" />
<ellipse cx="989.6" cy="710.6" rx="9.6" ry="14.3" transform="rotate(15 989.6 710.6)" stroke-width="1.2" />
<path d="M997.4 699.9 L998.1 701.0 L998.7 702.3 L999.1 703.6 L999.4 705.1 L999.5 706.6 L999.6 708.2 L999.5 709.8 L999.2 711.5 L998.9 713.1 L998.4 714.7 L997.8 716.2 L997.0 717.7 L996.2 719.0 L995.3 720.3 L994.3 721.4 L993.3 722.4 L992.2 723.2 L991.0 723.8 L989.9 724.3 L988.7 724.5 L987.6 724.6 L986.4 724.5 L985.4 724.2 L984.3 723.8" stroke-width="2.0" />
<path d="M966.2 786.5 L1012.6 770.8 L1012.6 832.9 L966.2 848.6 Z" stroke-width="1.2" />
<path d="M1011 771.5 L1011 833.5" stroke-width="1.0" />
<path d="M966.2 848.6 L1012.6 832.9" stroke-width="2.0" />
<ellipse cx="1146.8" cy="768.4" rx="4.6" ry="5.2" transform="rotate(10 1146.8 768.4)" stroke-width="1.0" fill="#1e1e1e"/>
<path d="M1144.2 790.2 C1144.2 787.5 1152.7 787.5 1152.7 790.2 L1152.2 798.5 C1151 800 1145.8 800 1144.8 798.5 Z" stroke-width="1.2" />
<path d="M1144.4 790.5 C1146 792.8 1151 792.8 1152.5 790.5 C1151 788.5 1146 788.5 1144.4 790.5 Z" stroke-width="1.0" fill="#1e1e1e"/>
<path d="M1121.4 819.1 L1165.4 803.8 L1184 809.8 L1184.3 810.5 L1182.4 952.2 C1181.5 957 1177 961 1173.3 962.3 L1143.8 973.5 C1140.5 974 1139 972 1138.8 968.4 L1137.7 907.5 C1137 897 1131 890 1124 885 L1112.3 876 L1111.3 846.6 Z" stroke-width="1.3" />
<path d="M1121.4 819.1 L1139.3 824.7 L1184 809.8" stroke-width="1.3" />
<path d="M1122.2 821.6 L1138.6 827.2 M1140.8 826.5 L1183.3 812.2" stroke-width="1.0" />
<path d="M1139.3 824.7 L1142.8 972 M1141 826 L1144.3 971" stroke-width="1.1" />
</g>
</svg>
</body></html>
